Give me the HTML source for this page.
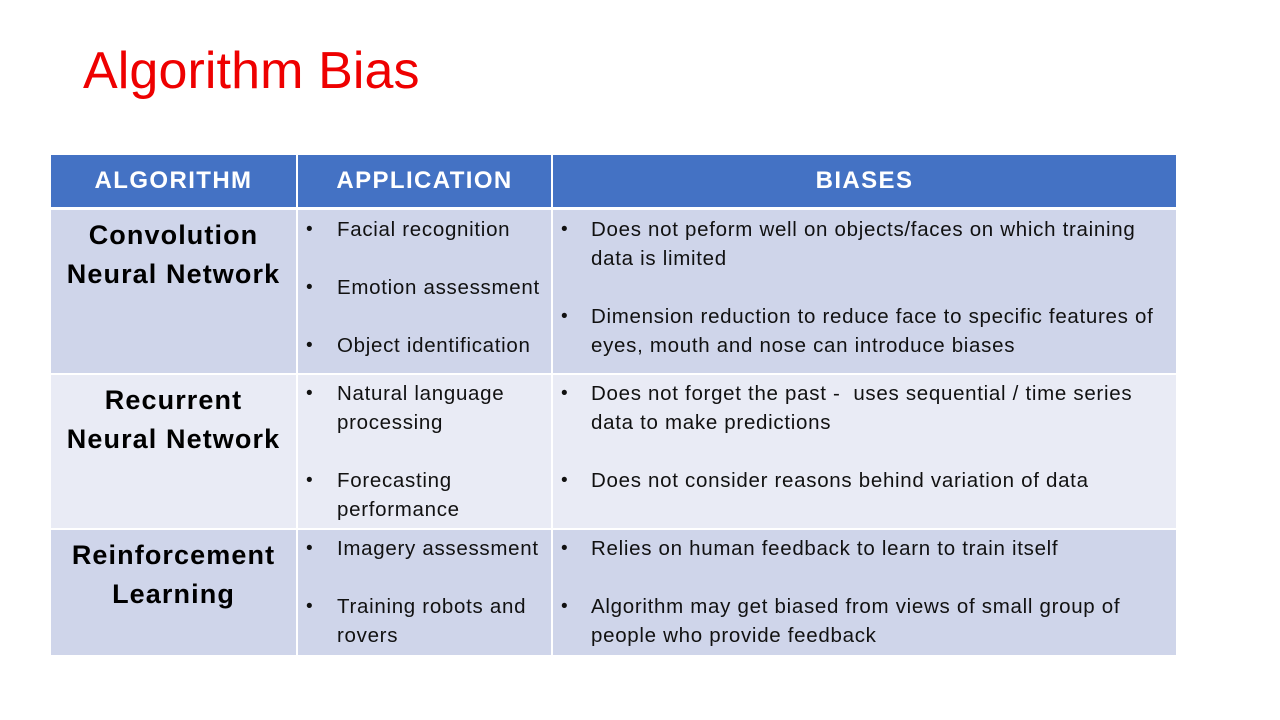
<!DOCTYPE html>
<html><head><meta charset="utf-8"><style>
body{margin:0;width:1280px;height:720px;background:#fff;position:relative;overflow:hidden;font-family:"Liberation Sans",sans-serif;}
.t{position:absolute;left:83px;top:41px;font-size:52px;color:#EE0000;letter-spacing:0.1px;white-space:nowrap}
.c{position:absolute}
.h{background:#4472C4;color:#fff;font-weight:bold;font-size:24px;letter-spacing:1.4px;display:flex;align-items:center;justify-content:center}
.d{background:#CFD5EA}.l{background:#E9EBF5}
.n{position:absolute;font-weight:bold;font-size:27px;letter-spacing:1.1px;color:#000;text-align:center;width:245px;left:51px;line-height:39px;white-space:nowrap}
.x{position:absolute;font-size:20.5px;letter-spacing:0.7px;line-height:29px;color:#111;white-space:nowrap}
.b{position:absolute;font-size:19px;line-height:29px;color:#111}
</style></head><body>
<div class="t">Algorithm Bias</div>
<div class="c h" style="left:51px;top:155px;width:245px;height:52px">ALGORITHM</div>
<div class="c h" style="left:298px;top:155px;width:253px;height:52px">APPLICATION</div>
<div class="c h" style="left:553px;top:155px;width:623px;height:52px">BIASES</div>

<div class="c d" style="left:51px;top:210px;width:245px;height:163px"></div>
<div class="c d" style="left:298px;top:210px;width:253px;height:163px"></div>
<div class="c d" style="left:553px;top:210px;width:623px;height:163px"></div>
<div class="c l" style="left:51px;top:375px;width:245px;height:153px"></div>
<div class="c l" style="left:298px;top:375px;width:253px;height:153px"></div>
<div class="c l" style="left:553px;top:375px;width:623px;height:153px"></div>
<div class="c d" style="left:51px;top:530px;width:245px;height:125px"></div>
<div class="c d" style="left:298px;top:530px;width:253px;height:125px"></div>
<div class="c d" style="left:553px;top:530px;width:623px;height:125px"></div>

<div class="n" style="top:216px">Convolution<br>Neural Network</div>
<div class="n" style="top:381px">Recurrent<br>Neural Network</div>
<div class="n" style="top:536px">Reinforcement<br>Learning</div>

<div class="b" style="left:306px;top:215px">•</div><div class="x" style="left:337px;top:215px">Facial recognition</div>
<div class="b" style="left:306px;top:273px">•</div><div class="x" style="left:337px;top:273px">Emotion assessment</div>
<div class="b" style="left:306px;top:331px">•</div><div class="x" style="left:337px;top:331px">Object identification</div>
<div class="b" style="left:306px;top:379px">•</div><div class="x" style="left:337px;top:379px">Natural language<br>processing</div>
<div class="b" style="left:306px;top:466px">•</div><div class="x" style="left:337px;top:466px">Forecasting<br>performance</div>
<div class="b" style="left:306px;top:534px">•</div><div class="x" style="left:337px;top:534px">Imagery assessment</div>
<div class="b" style="left:306px;top:592px">•</div><div class="x" style="left:337px;top:592px">Training robots and<br>rovers</div>

<div class="b" style="left:561px;top:215px">•</div><div class="x" style="left:591px;top:215px">Does not peform well on objects/faces on which training<br>data is limited</div>
<div class="b" style="left:561px;top:302px">•</div><div class="x" style="left:591px;top:302px">Dimension reduction to reduce face to specific features of<br>eyes, mouth and nose can introduce biases</div>
<div class="b" style="left:561px;top:379px">•</div><div class="x" style="left:591px;top:379px">Does not forget the past -&nbsp; uses sequential / time series<br>data to make predictions</div>
<div class="b" style="left:561px;top:466px">•</div><div class="x" style="left:591px;top:466px">Does not consider reasons behind variation of data</div>
<div class="b" style="left:561px;top:534px">•</div><div class="x" style="left:591px;top:534px">Relies on human feedback to learn to train itself</div>
<div class="b" style="left:561px;top:592px">•</div><div class="x" style="left:591px;top:592px">Algorithm may get biased from views of small group of<br>people who provide feedback</div>
</body></html>
